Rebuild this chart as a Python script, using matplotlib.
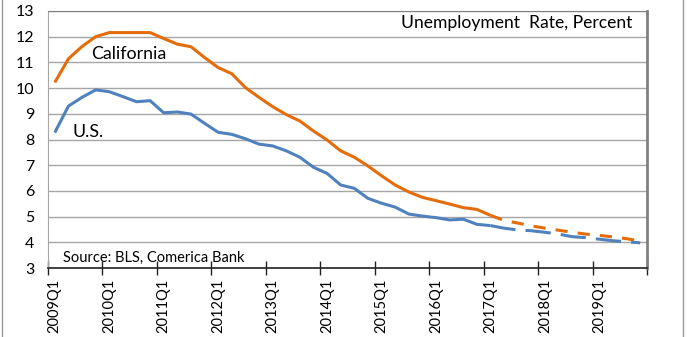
import matplotlib.pyplot as plt
import matplotlib.lines as mlines

# quarterly categories 2009Q1 .. 2019Q4
quarters = ['{}Q{}'.format(y, q) for y in range(2009, 2020) for q in range(1, 5)]

# actual data, 2009Q1 .. 2017Q1
ca_actual = [10.22, 11.14, 11.62, 12.0, 12.16, 12.16, 12.16, 12.16, 11.93, 11.71,
             11.61, 11.19, 10.8, 10.56, 10.02, 9.64, 9.28, 8.97, 8.72, 8.33,
             7.98, 7.56, 7.31, 6.97, 6.59, 6.23, 5.96, 5.75, 5.62, 5.49,
             5.35, 5.28, 5.05]
us_actual = [8.27, 9.3, 9.64, 9.93, 9.86, 9.67, 9.47, 9.51, 9.04, 9.07,
             8.99, 8.63, 8.28, 8.2, 8.03, 7.82, 7.75, 7.56, 7.31, 6.92,
             6.68, 6.23, 6.1, 5.71, 5.52, 5.37, 5.1, 5.02, 4.96, 4.87,
             4.9, 4.7, 4.65]

# forecast, 2017Q1 .. 2019Q4
ca_forecast = [5.05, 4.85, 4.75, 4.64, 4.55, 4.47, 4.39, 4.32, 4.27, 4.21, 4.14, 4.05]
us_forecast = [4.65, 4.55, 4.48, 4.45, 4.39, 4.32, 4.22, 4.18, 4.12, 4.06, 4.02, 3.98]

plt.rcParams['font.family'] = ['Lato', 'DejaVu Sans']

orange = '#E46C0A'
blue = '#4F81BD'

fig = plt.figure(figsize=(6.94, 3.37), dpi=100)
ax = fig.add_axes([48/694, 1 - 268/337, (647 - 48)/694, (268 - 11)/337])

xa = list(range(len(ca_actual)))
start = len(ca_actual) - 1
xf = list(range(start, start + len(ca_forecast)))

ax.plot(xa, ca_actual, color=orange, lw=2.2, solid_capstyle='butt')
ax.plot(xa, us_actual, color=blue, lw=2.2, solid_capstyle='butt')
ax.plot(xf, ca_forecast, color=orange, lw=2.2, dashes=(4, 3.3), dash_capstyle='butt')
ax.plot(xf, us_forecast, color=blue, lw=2.2, dashes=(8.3, 3.3), dash_capstyle='butt')

ax.set_xlim(-0.5, len(quarters) - 0.5)
ax.set_ylim(3, 13)
ax.set_yticks(range(3, 14))
ax.grid(axis='y', color='#a6a6a6', lw=1)
ax.set_axisbelow(True)

# ticks at category boundaries, labels at yearly categories
ax.set_xticks([i - 0.5 for i in range(0, len(quarters) + 1, 4)])
ax.set_xticklabels([])
ax.set_xticks(range(0, len(quarters), 4), minor=True)
ax.set_xticklabels(quarters[::4], minor=True, rotation=90, fontsize=10.5)
ax.tick_params(axis='x', which='major', direction='inout', length=10, width=1, color='#222222')
ax.tick_params(axis='x', which='minor', length=0, pad=8)
ax.tick_params(axis='y', length=0, labelsize=11.5, pad=10)

ax.spines['bottom'].set_color('#222222')
ax.spines['bottom'].set_linewidth(1.2)
ax.spines['left'].set_color('#a6a6a6')
ax.spines['top'].set_color('#808080')
ax.spines['right'].set_color('#808080')
ax.spines['right'].set_linewidth(2)

ax.text(5.4, 11.32, 'California', fontsize=12.8, ha='center', va='center')
ax.text(2.45, 8.3, 'U.S.', fontsize=12.8, ha='center', va='center')
ax.text(0.975, 0.955, 'Unemployment  Rate, Percent', transform=ax.transAxes,
        fontsize=12.6, ha='right', va='center')
ax.text(0.6, 3.4, 'Source: BLS, Comerica Bank', fontsize=10.5, ha='left', va='center')

# outer frame edges
fig.add_artist(mlines.Line2D([1.5/694, 1.5/694], [0, 1], color='#999999', lw=1))
fig.add_artist(mlines.Line2D([683/694, 683/694], [0, 1], color='#999999', lw=1))

fig.savefig('out.png', dpi=100)
